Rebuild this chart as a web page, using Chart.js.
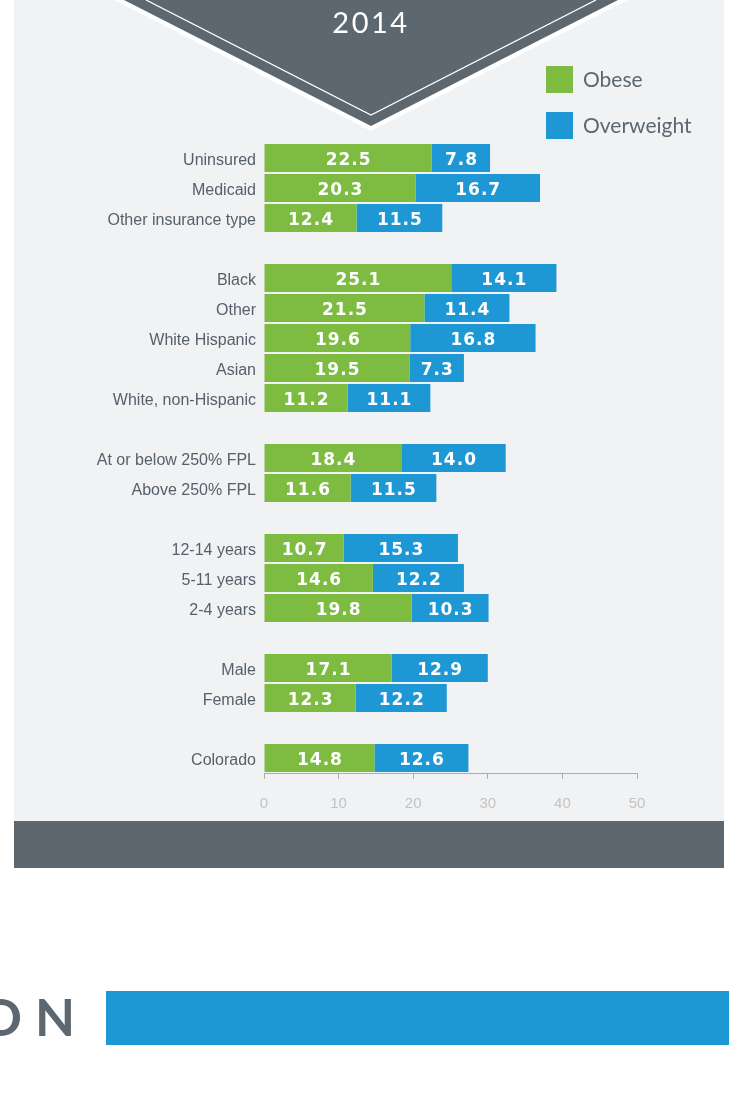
<!DOCTYPE html>
<html lang="en">
<head>
  <meta charset="UTF-8" />
  <title>Childhood weight status, 2014</title>
  <script src="https://cdn.jsdelivr.net/npm/chart.js"></script>
  <style>
    body {
      margin: 0;
      background: #ffffff;
    }
    canvas {
      display: block;
    }
  </style>
</head>
<body>

  <canvas id="weightChart" width="729" height="1119"></canvas>

  <script>
    // rows of the chart, empty strings are the spacer rows between groups
    const categories = [
      'Uninsured', 'Medicaid', 'Other insurance type', '',
      'Black', 'Other', 'White Hispanic', 'Asian', 'White, non-Hispanic', '',
      'At or below 250% FPL', 'Above 250% FPL', '',
      '12-14 years', '5-11 years', '2-4 years', '',
      'Male', 'Female', '',
      'Colorado'
    ];
    const obese = [22.5, 20.3, 12.4, null, 25.1, 21.5, 19.6, 19.5, 11.2, null,
                   18.4, 11.6, null, 10.7, 14.6, 19.8, null, 17.1, 12.3, null, 14.8];
    const overweight = [7.8, 16.7, 11.5, null, 14.1, 11.4, 16.8, 7.3, 11.1, null,
                        14.0, 11.5, null, 15.3, 12.2, 10.3, null, 12.9, 12.2, null, 12.6];
    const xTicks = [0, 10, 20, 30, 40, 50];
    const yearTitle = '2014';

    const GREEN = '#7dbc41';
    const BLUE = '#1e98d5';
    const SLATE = '#5d6770';
    const PANEL = '#f1f2f4';

    // panel, chevron header, footer band and bottom strip
    const backdrop = {
      id: 'backdrop',
      beforeDraw(chart) {
        const ctx = chart.ctx;
        ctx.save();
        ctx.fillStyle = PANEL;
        ctx.fillRect(14, 0, 710, 821);
        ctx.fillStyle = SLATE;
        ctx.fillRect(14, 821, 710, 47);

        // chevron with white edge and inner line
        ctx.fillStyle = '#ffffff';
        ctx.beginPath();
        ctx.moveTo(114, 0); ctx.lineTo(371, 131); ctx.lineTo(628, 0);
        ctx.closePath(); ctx.fill();
        ctx.fillStyle = SLATE;
        ctx.beginPath();
        ctx.moveTo(124, 0); ctx.lineTo(371, 126); ctx.lineTo(618, 0);
        ctx.closePath(); ctx.fill();
        ctx.strokeStyle = '#ffffff';
        ctx.lineWidth = 1.3;
        ctx.beginPath();
        ctx.moveTo(146, 0); ctx.lineTo(371, 115); ctx.lineTo(596, 0);
        ctx.stroke();

        ctx.fillStyle = '#ffffff';
        ctx.font = '29px Lato';
        ctx.letterSpacing = '2.5px';
        ctx.textAlign = 'center';
        ctx.textBaseline = 'alphabetic';
        ctx.fillText(yearTitle, 371, 33);
        ctx.letterSpacing = '0px';

        // bottom strip
        ctx.fillStyle = BLUE;
        ctx.fillRect(106, 991, 623, 54);
        ctx.fillStyle = SLATE;
        ctx.font = 'bold 52px Lato';
        ctx.textAlign = 'right';
        ctx.fillText('N', 75, 1036);
        ctx.fillText('O', 22, 1036);
        ctx.restore();
      }
    };

    // legend boxes at the top right
    const sideLegend = {
      id: 'sideLegend',
      afterDraw(chart) {
        const ctx = chart.ctx;
        ctx.save();
        ctx.font = '21px Lato';
        ctx.textAlign = 'left';
        ctx.textBaseline = 'middle';
        chart.data.datasets.forEach((ds, i) => {
          const y = 66 + i * 46;
          ctx.fillStyle = ds.backgroundColor;
          ctx.fillRect(546, y, 27, 27);
          ctx.fillStyle = SLATE;
          ctx.fillText(ds.label, 583, y + 14);
        });
        ctx.restore();
      }
    };

    // value printed in the middle of each segment
    const barValues = {
      id: 'barValues',
      afterDatasetsDraw(chart) {
        const ctx = chart.ctx;
        ctx.save();
        ctx.fillStyle = '#ffffff';
        ctx.font = 'bold 17px "DejaVu Sans"';
        ctx.letterSpacing = '1px';
        ctx.textAlign = 'center';
        ctx.textBaseline = 'alphabetic';
        chart.data.datasets.forEach((ds, di) => {
          chart.getDatasetMeta(di).data.forEach((bar, i) => {
            const v = ds.data[i];
            if (v === null) return;
            const cx = (bar.x + bar.base) / 2 + 0.5;
            ctx.fillText(v.toFixed(1), cx, bar.y + 7);
          });
        });
        ctx.restore();
      }
    };

    Chart.defaults.font.family = '"Liberation Sans", Arial, sans-serif';

    const ctx = document.getElementById('weightChart').getContext('2d');
    new Chart(ctx, {
      type: 'bar',
      data: {
        labels: categories,
        datasets: [
          { label: 'Obese', data: obese, backgroundColor: GREEN },
          { label: 'Overweight', data: overweight, backgroundColor: BLUE }
        ]
      },
      options: {
        indexAxis: 'y',
        responsive: false,
        animation: false,
        barPercentage: 1,
        categoryPercentage: 0.93,
        layout: {
          padding: { left: 0, right: 92, top: 143, bottom: 306 }
        },
        plugins: {
          legend: { display: false },
          tooltip: { enabled: false }
        },
        scales: {
          x: {
            stacked: true,
            min: 0,
            max: 50,
            afterBuildTicks: (scale) => {
              scale.ticks = xTicks.map(v => ({ value: v }));
            },
            afterFit: (scale) => { scale.height = 40; },
            grid: {
              drawOnChartArea: false,
              drawTicks: true,
              tickLength: 6,
              color: '#acacac'
            },
            border: { display: true, color: '#acacac' },
            ticks: {
              color: '#c3c3c3',
              font: { size: 15 },
              padding: 16
            }
          },
          y: {
            stacked: true,
            afterFit: (scale) => { scale.width = 264; },
            grid: { display: false, drawTicks: false },
            border: { display: false },
            ticks: {
              color: '#56606a',
              font: { size: 16 },
              padding: 8,
              labelOffset: 3,
              autoSkip: false
            }
          }
        }
      },
      plugins: [backdrop, sideLegend, barValues]
    });
  </script>

</body>
</html>
